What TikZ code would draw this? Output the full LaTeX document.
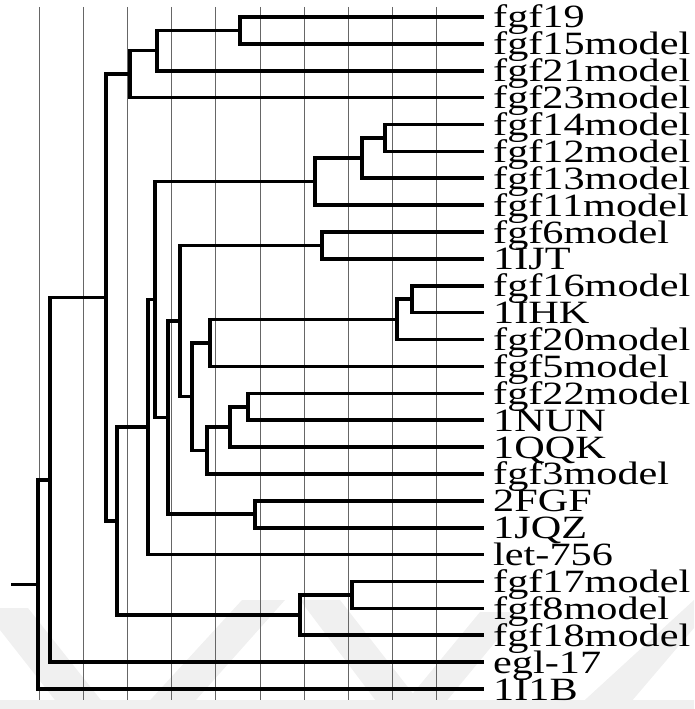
\documentclass[tikz,border=0pt]{standalone}
\usepackage{fontspec}
\setmainfont{Liberation Serif}
\usepackage{graphicx}
\tikzset{
  branch/.style={line width=3.6pt, line cap=rect, black},
  gridline/.style={line width=1pt, black!60},
  wmark/.style={fill=black!6, draw=none},
  leaflabel/.style={anchor=base west, inner sep=0pt, font=\fontsize{32.5}{34}\selectfont}
}
\begin{document}
\begin{tikzpicture}[x=1pt,y=-1pt]
\useasboundingbox (0,0) rectangle (694,709);
% faint watermark
\fill[wmark] (0,700) rectangle (694,709);
\fill[wmark] (0,608) -- (28,608) -- (108,709) -- (62,709) -- (0,630) -- cycle;
\fill[wmark] (142,709) -- (188,709) -- (285,600) -- (242,600) -- cycle;
\fill[wmark] (300,600) -- (340,600) -- (425,709) -- (382,709) -- cycle;
\fill[wmark] (400,709) -- (440,709) -- (520,612) -- (480,612) -- cycle;
\fill[wmark] (575,709) -- (625,709) -- (694,628) -- (694,600) -- cycle;
% grid lines
\foreach \k in {0,...,9} {
  \draw[gridline] (39+44.22*\k,7) -- (39+44.22*\k,700);
}
% leaves
\foreach \lab [count=\i from 0] in {fgf19,fgf15model,fgf21model,fgf23model,fgf14model,fgf12model,fgf13model,fgf11model,fgf6model,1IJT,fgf16model,1IHK,fgf20model,fgf5model,fgf22model,1NUN,1QQK,fgf3model,2FGF,1JQZ,let-756,fgf17model,fgf8model,fgf18model,egl-17,1I1B} {
  \coordinate (l\i) at (482,17+26.88*\i);
  \node[leaflabel] (t\i) at (493,28+26.88*\i) {\scalebox{1.3}[1]{\lab}};
}
% internal nodes
\coordinate (rootstub) at (13,584.43);
\coordinate (root) at (38,584.43);
\coordinate (A) at (50,479.87);
\coordinate (B) at (106,297.61);
\coordinate (C) at (130,74.12);
\coordinate (E) at (157,50.6);
\coordinate (F) at (240,30.44);
\coordinate (D) at (117,521.1);
\coordinate (H) at (300,615.08);
\coordinate (I) at (352,594.92);
\coordinate (G) at (148,427.13);
\coordinate (J) at (155,299.66);
\coordinate (K) at (315,181.64);
\coordinate (M) at (362,158.12);
\coordinate (N) at (385,137.96);
\coordinate (L) at (168,417.68);
\coordinate (Q) at (255,514.28);
\coordinate (P) at (180,321.08);
\coordinate (R) at (322,245.48);
\coordinate (S) at (192,396.68);
\coordinate (T) at (210,342.92);
\coordinate (V) at (397,319.4);
\coordinate (W) at (412,299.24);
\coordinate (U) at (207,450.44);
\coordinate (X) at (230,426.92);
\coordinate (Y) at (248,406.76);
% branches
\draw[branch] (rootstub) -- (root);
\draw[branch] (root) |- (A);  \draw[branch] (root) |- (l25);
\draw[branch] (A) |- (B);     \draw[branch] (A) |- (l24);
\draw[branch] (B) |- (C);     \draw[branch] (B) |- (D);
\draw[branch] (C) |- (E);     \draw[branch] (C) |- (l3);
\draw[branch] (E) |- (F);     \draw[branch] (E) |- (l2);
\draw[branch] (F) |- (l0);    \draw[branch] (F) |- (l1);
\draw[branch] (D) |- (G);     \draw[branch] (D) |- (H);
\draw[branch] (H) |- (I);     \draw[branch] (H) |- (l23);
\draw[branch] (I) |- (l21);   \draw[branch] (I) |- (l22);
\draw[branch] (G) |- (J);     \draw[branch] (G) |- (l20);
\draw[branch] (J) |- (K);     \draw[branch] (J) |- (L);
\draw[branch] (K) |- (M);     \draw[branch] (K) |- (l7);
\draw[branch] (M) |- (N);     \draw[branch] (M) |- (l6);
\draw[branch] (N) |- (l4);    \draw[branch] (N) |- (l5);
\draw[branch] (L) |- (P);     \draw[branch] (L) |- (Q);
\draw[branch] (Q) |- (l18);   \draw[branch] (Q) |- (l19);
\draw[branch] (P) |- (R);     \draw[branch] (P) |- (S);
\draw[branch] (R) |- (l8);    \draw[branch] (R) |- (l9);
\draw[branch] (S) |- (T);     \draw[branch] (S) |- (U);
\draw[branch] (T) |- (V);     \draw[branch] (T) |- (l13);
\draw[branch] (V) |- (W);     \draw[branch] (V) |- (l12);
\draw[branch] (W) |- (l10);   \draw[branch] (W) |- (l11);
\draw[branch] (U) |- (X);     \draw[branch] (U) |- (l17);
\draw[branch] (X) |- (Y);     \draw[branch] (X) |- (l16);
\draw[branch] (Y) |- (l14);   \draw[branch] (Y) |- (l15);
\end{tikzpicture}
\end{document}
